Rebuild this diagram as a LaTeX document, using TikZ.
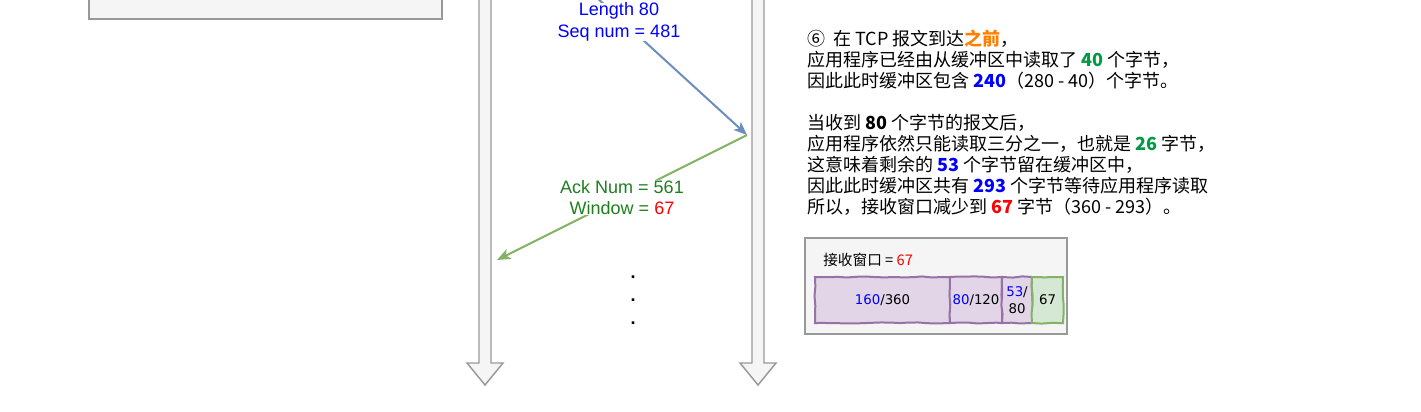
\documentclass[tikz,border=0pt]{standalone}
\usepackage{fontspec}
\setmainfont{Liberation Sans}
\newfontfamily\cjk{Noto Sans CJK SC}
\newfontfamily\sketchfont{DejaVu Sans}
\usetikzlibrary{arrows.meta,positioning,decorations.pathmorphing}
\definecolor{gray96}{HTML}{F5F5F5}
\definecolor{gray60}{HTML}{999999}
\definecolor{seqblue}{HTML}{6C8EBF}
\definecolor{ackgreen}{HTML}{82B366}
\definecolor{labgreen}{HTML}{1F7F1F}
\definecolor{numgreen}{HTML}{009944}
\definecolor{numblue}{HTML}{0000FF}
\definecolor{numred}{HTML}{FF0000}
\definecolor{orng}{HTML}{FF8000}
\definecolor{bufpurple}{HTML}{9673A6}
\definecolor{buffill}{HTML}{E1D5E7}
\definecolor{freefill}{HTML}{D5E8D4}
\newcommand{\gnum}[1]{{\bfseries\color{numgreen}#1}}
\newcommand{\bnum}[1]{{\bfseries\color{numblue}#1}}
\newcommand{\rnum}[1]{{\bfseries\color{numred}#1}}

\begin{document}
\begin{tikzpicture}[
			x=0.75pt, y=-0.75pt,
			lifeline/.style={draw=gray60,fill=gray96,line width=1.1pt},
			panel/.style={draw=gray60,fill=gray96,line width=1pt},
			seg/.style={-{Stealth[length=10pt,width=8pt,inset=2.5pt]},line width=1.5pt},
			msg/.style={font=\fontsize{13.5}{16.1}\selectfont,align=center,
			fill=white,inner sep=0pt},
			buf/.style={draw=bufpurple,fill=buffill,line width=1.5pt,
			minimum height=34.5pt,inner sep=0pt,outer sep=0pt,
			font=\sketchfont\fontsize{10}{12.5}\selectfont,align=center,
			decorate,decoration={random steps,segment length=7pt,amplitude=0.5pt}}
			]
			\useasboundingbox (0,0) rectangle (1421,411);
			\clip (0,0) rectangle (1421,411);
			\pgfmathsetseed{11}
			\draw[panel] (89,-10) rectangle (442,19);
			\foreach \cx in {485,758}
				\draw[lifeline] ({\cx-6},-10) -- ({\cx-6},363) -- ({\cx-18},363)
					-- (\cx,385) -- ({\cx+18},363) -- ({\cx+6},363) -- ({\cx+6},-10) -- cycle;
			\coordinate (sendA) at (491,-99);
			\coordinate (recvB) at (747,135);
			\coordinate (ackA) at (497,260);
			\draw[seg,draw=seqblue,fill=seqblue] (sendA) -- node[msg,text=numblue,yshift=-3pt]
				{Length 80\\Seq num = 481} (recvB);
			\draw[seg,draw=ackgreen,fill=ackgreen] (recvB) -- node[msg,text=labgreen]
				{Ack Num = 561\\Window = {\color{numred}67}} (ackA);
			\node[font=\bfseries\fontsize{13.5}{17}\selectfont,align=center] (dots) at (633,300)
				{.\\.\\.};
			% explanation
			\node[anchor=north west,align=left,inner sep=0pt,
				font=\cjk\fontsize{13.5}{15.75}\selectfont] (note) at (807,30)
				{⑥\ \ 在 TCP 报文到达{\bfseries\color{orng}之前}，\\
				应用程序已经由从缓冲区中读取了 \gnum{40} 个字节，\\
				因此此时缓冲区包含 \bnum{240}（280 - 40）个字节。\\[15.75pt]
				当收到 \textbf{80} 个字节的报文后，\\
				应用程序依然只能读取三分之一，也就是 \gnum{26} 字节，\\
				这意味着剩余的 \bnum{53} 个字节留在缓冲区中，\\
				因此此时缓冲区共有 \bnum{293} 个字节等待应用程序读取\\
				所以，接收窗口减少到 \rnum{67} 字节（360 - 293）。};
			% receive window
			\draw[panel] (805,238) rectangle (1067,334);
			\node[anchor=west,inner sep=0pt,font=\cjk\fontsize{11}{13}\selectfont]
				(wlabel) at (823,260) {接收窗口 = {\color{numred}67}};
			\node[buf,minimum width=101.25pt] (b1) at (882.5,300)
				{{\color{numblue}160}/360};
			\node[buf,minimum width=39pt,right=0pt of b1] (b2) {{\color{numblue}80}/120};
			\node[buf,minimum width=22.5pt,right=0pt of b2] (b3)
				{{\color{numblue}53}/\\80};
			\node[buf,minimum width=23.25pt,right=0pt of b3,draw=ackgreen,fill=freefill]
				(b4) {67};
		\end{tikzpicture}
\end{document}
